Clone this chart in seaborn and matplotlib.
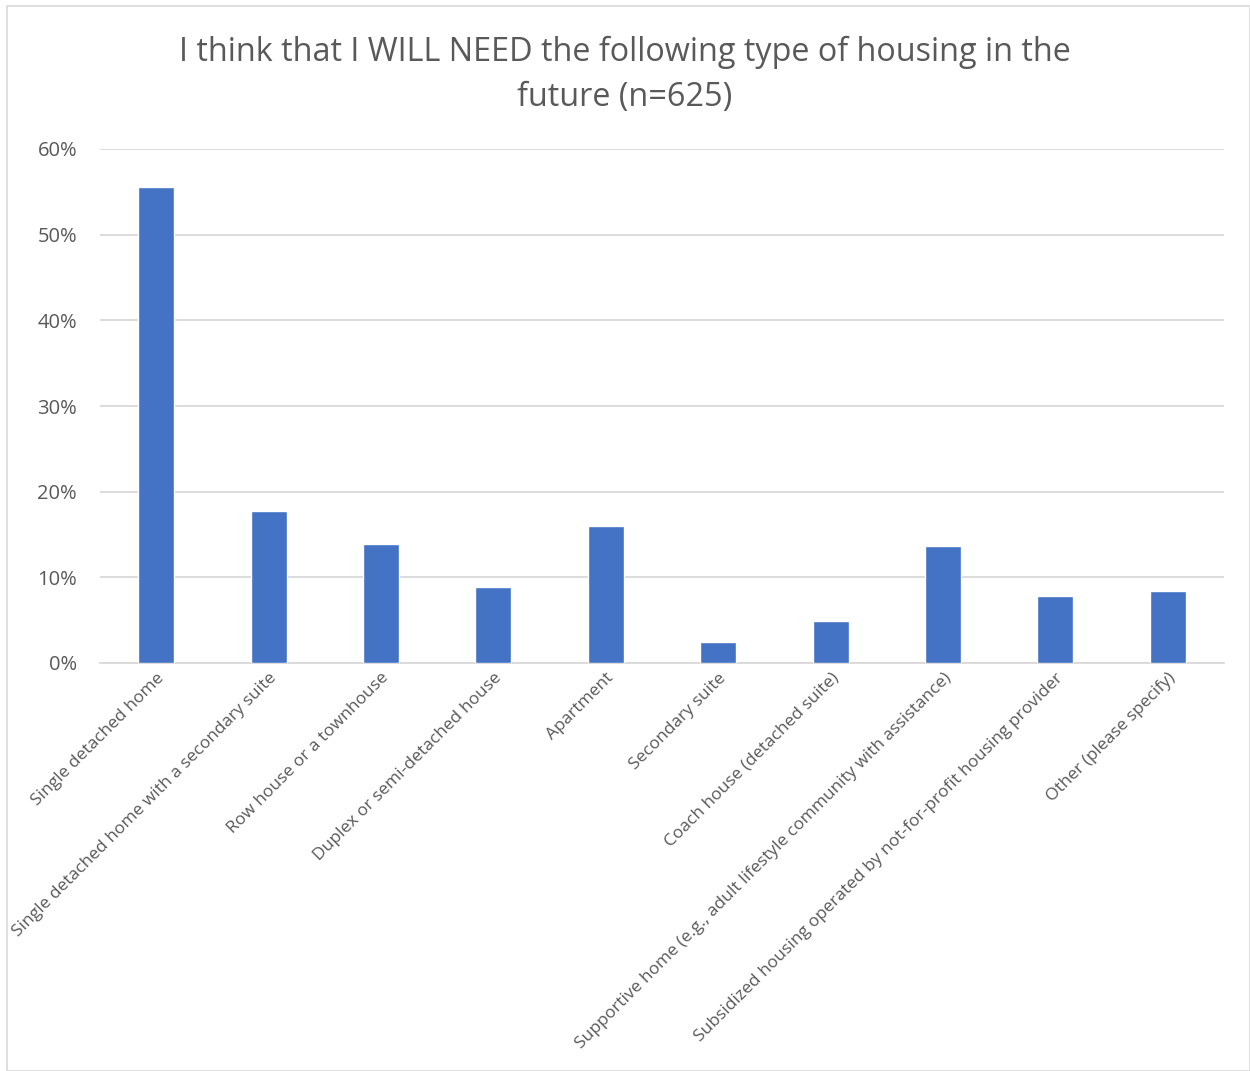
import matplotlib
matplotlib.use("Agg")
import matplotlib.pyplot as plt
import seaborn as sns
import pandas as pd
from matplotlib.ticker import PercentFormatter
from matplotlib.patches import Rectangle

categories = [
    "Single detached home",
    "Single detached home with a secondary suite",
    "Row house or a townhouse",
    "Duplex or semi-detached house",
    "Apartment",
    "Secondary suite",
    "Coach house (detached suite)",
    "Supportive home (e.g., adult lifestyle community with assistance)",
    "Subsidized housing operated by not-for-profit housing provider",
    "Other (please specify)",
]
values = [55.6, 17.8, 13.9, 8.9, 16.0, 2.4, 4.9, 13.6, 7.8, 8.4]
yticks = [0, 10, 20, 30, 40, 50, 60]
title = "I think that I WILL NEED the following type of housing in the\nfuture (n=625)"

df = pd.DataFrame({"cat": categories, "val": values})

sns.set_theme(style="white")
plt.rcParams["font.family"] = ["Open Sans", "DejaVu Sans"]

fig = plt.figure(figsize=(12.5, 10.71), dpi=100)
ax = fig.add_axes([100 / 1250, 1 - 663 / 1071, 1124 / 1250, 514 / 1071])

sns.barplot(data=df, x="cat", y="val", color="#4472C4", saturation=1, width=0.32, ax=ax, zorder=3)

ax.set_ylim(0, 60)
ax.set_xlim(-0.5, len(categories) - 0.5)
ax.set_yticks(yticks)
ax.yaxis.set_major_formatter(PercentFormatter(decimals=0))
ax.yaxis.grid(True, color="#d9d9d9", linewidth=1.3, zorder=0)
ax.set_axisbelow(True)
for s in ["top", "right", "left"]:
    ax.spines[s].set_visible(False)
ax.spines["bottom"].set_color("#d9d9d9")
ax.spines["bottom"].set_linewidth(1.3)
ax.set_xlabel("")
ax.set_ylabel("")
ax.tick_params(axis="y", length=0, pad=16.5, labelsize=14.5, labelcolor="#595959")
ax.tick_params(axis="x", length=0, pad=5, labelsize=12.5, labelcolor="#595959")
ax.set_xticks(range(len(categories)))
ax.set_xticklabels(categories, rotation=45, ha="right", rotation_mode="anchor")

fig.text(0.5, 1 - 75 / 1071, title, ha="center", va="center", fontsize=23.3,
         color="#595959", linespacing=1.5)

fig.patches.append(Rectangle((7 / 1250, 0), 1 - 7 / 1250, 1 - 6 / 1071, transform=fig.transFigure,
                             fill=False, edgecolor="#d9d9d9", linewidth=1.2))

fig.savefig("out.png", dpi=100, facecolor="white")
